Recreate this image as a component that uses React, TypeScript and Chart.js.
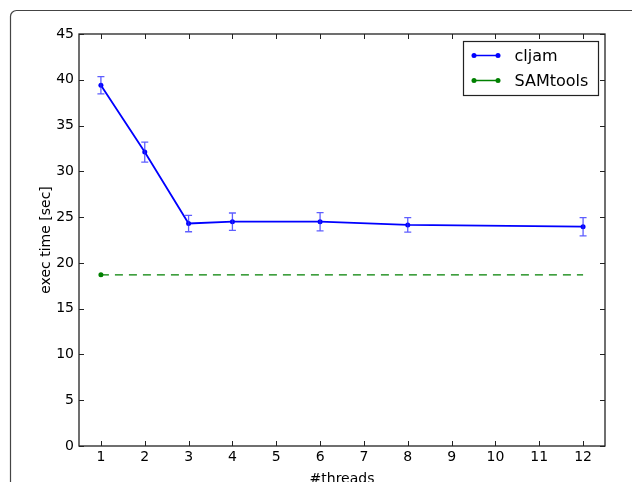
import React, { useEffect, useRef } from "react";
import { Chart, registerables } from "chart.js";

Chart.register(...registerables);

const xTicks = [1, 2, 3, 4, 5, 6, 7, 8, 9, 10, 11, 12];
const yTicks = [0, 5, 10, 15, 20, 25, 30, 35, 40, 45];
const cljamThreads = [1, 2, 3, 4, 6, 8, 12];
const cljamTimes = [39.4, 32.1, 24.3, 24.5, 24.5, 24.15, 23.95];
const cljamErrors = [0.95, 1.1, 0.9, 0.95, 1.0, 0.8, 1.0];
const samThreads = [1, 12];
const samTimes = [18.7, 18.7];
const seriesNames = ["cljam", "SAMtools"];

const FONT = "'DejaVu Sans', sans-serif";

const framePlugin = {
  id: "frame",
  beforeDraw(chart: any) {
    const ctx = chart.ctx;
    ctx.save();
    ctx.fillStyle = "#ffffff";
    ctx.fillRect(0, 0, chart.width, chart.height);
    ctx.strokeStyle = "#444444";
    ctx.lineWidth = 1.2;
    const x = 10.5, y = 10.5, r = 6;
    const w = chart.width + 20, h = chart.height + 20;
    ctx.beginPath();
    ctx.moveTo(x, y + h);
    ctx.lineTo(x, y + r);
    ctx.arcTo(x, y, x + r, y, r);
    ctx.lineTo(x + w, y);
    ctx.stroke();
    ctx.restore();
  },
};

const errorBarPlugin = {
  id: "errorBars",
  afterDatasetsDraw(chart: any) {
    const ctx = chart.ctx;
    const xs = chart.scales.x;
    const ys = chart.scales.y;
    ctx.save();
    ctx.strokeStyle = "rgba(40,40,255,0.75)";
    ctx.lineWidth = 1.3;
    cljamThreads.forEach((t, i) => {
      const px = xs.getPixelForValue(t);
      const top = ys.getPixelForValue(cljamTimes[i] + cljamErrors[i]);
      const bot = ys.getPixelForValue(cljamTimes[i] - cljamErrors[i]);
      ctx.beginPath();
      ctx.moveTo(px, top);
      ctx.lineTo(px, bot);
      ctx.moveTo(px - 3.5, top);
      ctx.lineTo(px + 3.5, top);
      ctx.moveTo(px - 3.5, bot);
      ctx.lineTo(px + 3.5, bot);
      ctx.stroke();
    });
    ctx.restore();
  },
};

const axesBoxPlugin = {
  id: "axesBox",
  afterDraw(chart: any) {
    const ctx = chart.ctx;
    const { left, right, top, bottom } = chart.chartArea;
    const xs = chart.scales.x;
    const ys = chart.scales.y;
    ctx.save();
    ctx.strokeStyle = "#222222";
    ctx.lineWidth = 1.3;
    ctx.strokeRect(left, top, right - left, bottom - top);
    ctx.lineWidth = 1;
    const L = 5;
    ctx.beginPath();
    xTicks.forEach((t) => {
      const px = Math.round(xs.getPixelForValue(t)) + 0.5;
      ctx.moveTo(px, bottom);
      ctx.lineTo(px, bottom - L);
      ctx.moveTo(px, top);
      ctx.lineTo(px, top + L);
    });
    yTicks.forEach((t) => {
      const py = Math.round(ys.getPixelForValue(t)) + 0.5;
      ctx.moveTo(left, py);
      ctx.lineTo(left + L, py);
      ctx.moveTo(right, py);
      ctx.lineTo(right - L, py);
    });
    ctx.stroke();

    // legend
    const bw = 135, bh = 54;
    const bx = Math.round(right - 7 - bw) + 0.5;
    const by = Math.round(top + 7) + 0.5;
    ctx.fillStyle = "#ffffff";
    ctx.fillRect(bx, by, bw, bh);
    ctx.strokeStyle = "#222222";
    ctx.lineWidth = 1.2;
    ctx.strokeRect(bx, by, bw, bh);
    const colors = ["#0000ff", "#008000"];
    seriesNames.forEach((name, i) => {
      const ly = by + 14 + i * 25;
      const x0 = bx + 10.5, x1 = bx + 34.5;
      ctx.strokeStyle = colors[i];
      ctx.lineWidth = 1.5;
      ctx.beginPath();
      ctx.moveTo(x0, ly);
      ctx.lineTo(x1, ly);
      ctx.stroke();
      ctx.fillStyle = colors[i];
      [x0, x1].forEach((xx) => {
        ctx.beginPath();
        ctx.arc(xx, ly, 2.5, 0, Math.PI * 2);
        ctx.fill();
      });
      ctx.fillStyle = "#000000";
      ctx.font = "16px " + FONT;
      ctx.textBaseline = "middle";
      ctx.textAlign = "left";
      ctx.fillText(name, bx + 51, ly + 1);
    });
    ctx.restore();
  },
};

export default function App() {
  const ref = useRef<HTMLCanvasElement | null>(null);
  useEffect(() => {
    if (!ref.current) return;
    const chart = new Chart(ref.current, {
      type: "line",
      data: {
        datasets: [
          {
            label: seriesNames[0],
            data: cljamThreads.map((t, i) => ({ x: t, y: cljamTimes[i] })),
            borderColor: "#0000ff",
            backgroundColor: "#0000ff",
            borderWidth: 1.8,
            pointRadius: 2.5,
            pointBorderWidth: 0,
            tension: 0,
            fill: false,
          },
          {
            label: seriesNames[1],
            data: samThreads.map((t, i) => ({ x: t, y: samTimes[i] })),
            borderColor: "#008000",
            backgroundColor: "#008000",
            borderWidth: 1.3,
            borderDash: [8, 6],
            pointRadius: [2.5, 0],
            pointBorderWidth: 0,
            tension: 0,
            fill: false,
          },
        ],
      },
      options: {
        animation: false,
        responsive: false,
        devicePixelRatio: 1,
        layout: { padding: { left: 0, top: 34, right: 27, bottom: 0 } },
        plugins: { legend: { display: false }, tooltip: { enabled: false } },
        scales: {
          x: {
            type: "linear",
            min: 0.5,
            max: 12.5,
            afterBuildTicks: (s: any) => {
              s.ticks = xTicks.map((v) => ({ value: v }));
            },
            afterFit: (s: any) => {
              s.height = 54;
            },
            grid: { display: false, drawTicks: false },
            border: { display: false },
            ticks: {
              color: "#000000",
              font: { family: FONT, size: 14 },
              padding: 3,
              maxRotation: 0,
              autoSkip: false,
            },
            title: {
              display: true,
              text: "#threads",
              color: "#000000",
              font: { family: FONT, size: 14 },
              padding: { top: 0, bottom: 12.5 },
            },
          },
          y: {
            type: "linear",
            min: 0,
            max: 45,
            afterBuildTicks: (s: any) => {
              s.ticks = yTicks.map((v) => ({ value: v }));
            },
            afterFit: (s: any) => {
              s.width = 79;
            },
            grid: { display: false, drawTicks: false },
            border: { display: false },
            ticks: {
              color: "#000000",
              font: { family: FONT, size: 14 },
              padding: 5,
              autoSkip: false,
            },
            title: {
              display: true,
              text: "exec time [sec]",
              color: "#000000",
              font: { family: FONT, size: 14 },
              padding: { top: 38, bottom: 0 },
            },
          },
        },
      },
      plugins: [framePlugin, errorBarPlugin, axesBoxPlugin],
    });
    return () => chart.destroy();
  }, []);
  return (
    <div style={{ position: "fixed", left: 0, top: 0, width: 632, height: 500 }}>
      <canvas ref={ref} width={632} height={500} style={{ display: "block" }} />
    </div>
  );
}
